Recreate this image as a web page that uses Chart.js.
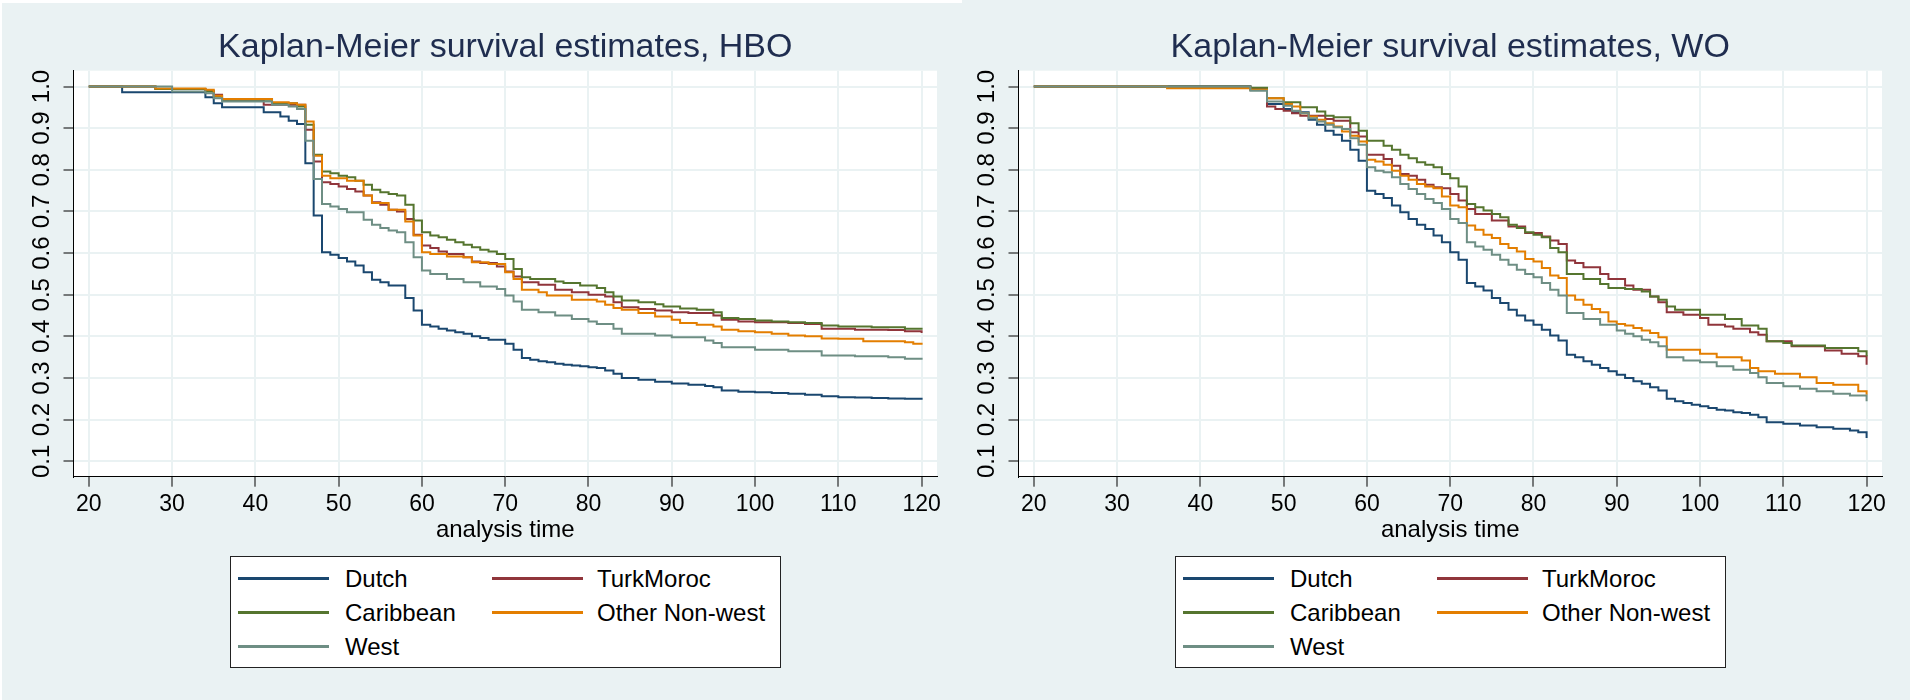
<!DOCTYPE html>
<html>
<head>
<meta charset="utf-8">
<title>Kaplan-Meier survival estimates</title>
<script src="https://cdn.jsdelivr.net/npm/chart.js@4.4.1/dist/chart.umd.min.js"></script>
<style>
    html, body { margin: 0; padding: 0; }
    body {
        width: 1910px; height: 700px; overflow: hidden; position: relative;
        background: #eaf2f3;
        font-family: "Liberation Sans", Arial, sans-serif;
    }
    .edge-top { position: absolute; left: 0; top: 0; width: 962px; height: 3px; background: #fff; }
    .edge-left { position: absolute; left: 0; top: 0; width: 2px; height: 700px; background: #fff; }
    .panel { position: absolute; top: 0; width: 1010px; height: 700px; }
    .legend {
        position: absolute; top: 556px; width: 551px; height: 112px;
        box-sizing: border-box; border: 1px solid #222; background: #fff;
    }
    .legend .swatch { position: absolute; width: 91px; height: 3px; }
    .legend .label {
        position: absolute; font-size: 24px; line-height: 1; color: #000;
        transform: translateY(-50%); white-space: nowrap;
    }
</style>
</head>
<body>
<div class="edge-top"></div>
<div class="edge-left"></div>
<div class="panel" style="left:0px"><canvas id="chart-hbo" width="1010" height="700"></canvas></div>
<div class="panel" style="left:945px"><canvas id="chart-wo" width="1010" height="700"></canvas></div>
<div class="legend" id="legend-hbo" style="left:230px"></div>
<div class="legend" id="legend-wo" style="left:1175px"></div>

<script>
// --- Axis ticks & series ---
const xTicks = [20, 30, 40, 50, 60, 70, 80, 90, 100, 110, 120];
const yTicks = [0.1, 0.2, 0.3, 0.4, 0.5, 0.6, 0.7, 0.8, 0.9, 1.0];
const seriesNames = ['Dutch', 'TurkMoroc', 'Caribbean', 'Other Non-west', 'West'];
const seriesColors = ['#1a476f', '#90353b', '#55752f', '#e37e00', '#6e8e84'];

// --- HBO (time, survival) ---
const hboDutchT = [20,24,34,35,36,41,43,44,45,46,47,48,49,50,51,52,53,54,55,56,58,59,60,61,62,63,64,65,66,67,68,70,71,72,73,74,75,76,77,78,79,80,81,82,83,84,86,88,90,92,94,95,96,98,100,102,104,106,108,110,112,114,116,118,120];
const hboDutchS = [1.0,0.986,0.974,0.96,0.95,0.938,0.928,0.918,0.91,0.816,0.69,0.602,0.596,0.588,0.58,0.57,0.554,0.536,0.53,0.522,0.492,0.462,0.428,0.424,0.418,0.414,0.41,0.406,0.40,0.396,0.392,0.382,0.368,0.348,0.344,0.34,0.338,0.334,0.332,0.33,0.328,0.326,0.324,0.318,0.31,0.30,0.296,0.291,0.287,0.284,0.281,0.278,0.27,0.267,0.266,0.264,0.262,0.26,0.256,0.254,0.253,0.252,0.251,0.25,0.248];

const hboTurkT = [20,28,34,35,36,41,46,47,48,49,50,51,52,53,54,55,56,57,58,59,60,61,62,63,65,66,67,69,70,71,72,74,76,78,80,82,83,84,86,88,90,92,95,96,98,100,104,106,108,112,116,118,120];
const hboTurkS = [1.0,0.994,0.99,0.98,0.968,0.956,0.896,0.82,0.77,0.766,0.76,0.754,0.748,0.738,0.722,0.716,0.704,0.7,0.682,0.644,0.618,0.612,0.604,0.598,0.59,0.58,0.576,0.568,0.556,0.544,0.53,0.524,0.512,0.506,0.5,0.496,0.482,0.47,0.466,0.462,0.458,0.456,0.45,0.44,0.436,0.434,0.432,0.43,0.418,0.416,0.415,0.412,0.408];

const hboCaribT = [20,28,34,35,36,42,45,46,47,48,49,50,51,52,53,54,55,56,57,58,59,60,61,62,63,64,65,66,67,68,69,70,71,72,73,76,77,79,81,82,83,84,86,88,89,91,93,95,96,98,100,102,104,106,108,110,114,118,120];
const hboCaribS = [1.0,0.994,0.988,0.976,0.968,0.96,0.952,0.908,0.836,0.796,0.792,0.786,0.782,0.774,0.764,0.752,0.746,0.742,0.738,0.716,0.678,0.65,0.642,0.638,0.632,0.626,0.62,0.614,0.608,0.604,0.598,0.586,0.562,0.542,0.538,0.532,0.528,0.522,0.516,0.506,0.496,0.486,0.482,0.477,0.472,0.467,0.464,0.458,0.444,0.442,0.438,0.436,0.434,0.432,0.426,0.424,0.422,0.418,0.416];

const hboOtherT = [20,28,34,35,36,42,44,45,46,47,48,49,51,53,54,56,58,59,60,61,63,65,66,68,70,71,72,74,75,78,81,82,83,84,86,88,90,91,93,95,96,98,100,102,104,106,108,110,113,118,119,120];
const hboOtherS = [1.0,0.995,0.992,0.978,0.97,0.962,0.96,0.956,0.916,0.834,0.786,0.78,0.774,0.738,0.72,0.704,0.676,0.642,0.602,0.598,0.592,0.59,0.578,0.574,0.554,0.538,0.512,0.506,0.498,0.488,0.484,0.476,0.468,0.464,0.456,0.448,0.44,0.432,0.428,0.424,0.416,0.412,0.41,0.406,0.402,0.4,0.395,0.394,0.388,0.386,0.382,0.38];

const hboWestT = [20,30,34,35,36,42,44,45,46,47,48,49,50,51,53,54,55,56,57,58,59,60,61,63,65,67,69,70,71,72,74,76,78,80,81,83,84,88,90,94,95,96,100,104,108,112,116,118,120];
const hboWestS = [1.0,0.988,0.984,0.972,0.964,0.956,0.952,0.946,0.87,0.778,0.718,0.712,0.706,0.698,0.68,0.668,0.66,0.654,0.65,0.626,0.59,0.558,0.55,0.538,0.53,0.52,0.514,0.498,0.484,0.464,0.458,0.45,0.442,0.436,0.43,0.418,0.406,0.402,0.398,0.39,0.384,0.374,0.368,0.364,0.354,0.352,0.35,0.346,0.344];

// --- WO (time, survival) ---
const woDutchT = [20,46,48,50,51,53,54,55,56,57,58,59,60,61,62,63,64,65,66,67,68,69,70,71,72,73,74,75,76,77,78,79,80,81,82,83,84,85,86,87,88,89,90,91,92,93,94,95,96,97,98,99,100,101,102,103,104,105,106,107,108,110,112,114,116,118,119,120];
const woDutchS = [1.0,0.992,0.958,0.946,0.938,0.92,0.908,0.894,0.884,0.87,0.848,0.822,0.75,0.742,0.732,0.714,0.698,0.682,0.668,0.658,0.642,0.626,0.602,0.584,0.528,0.52,0.51,0.492,0.48,0.464,0.45,0.438,0.428,0.416,0.402,0.39,0.356,0.35,0.34,0.332,0.324,0.316,0.308,0.3,0.292,0.286,0.278,0.27,0.25,0.244,0.24,0.236,0.232,0.228,0.224,0.222,0.218,0.216,0.212,0.206,0.194,0.19,0.186,0.182,0.178,0.174,0.17,0.156];

const woTurkT = [20,46,48,49,50,51,52,55,56,58,59,60,62,63,64,65,66,67,68,69,70,71,72,73,75,77,79,81,82,83,84,85,86,88,89,91,92,94,95,96,98,100,101,103,104,106,107,108,111,115,117,119,120];
const woTurkS = [1.0,0.996,0.952,0.946,0.942,0.936,0.93,0.922,0.918,0.89,0.88,0.836,0.826,0.81,0.79,0.786,0.776,0.764,0.758,0.756,0.742,0.726,0.706,0.694,0.678,0.664,0.648,0.64,0.63,0.622,0.582,0.576,0.566,0.55,0.538,0.522,0.512,0.496,0.482,0.458,0.452,0.444,0.428,0.424,0.418,0.41,0.404,0.388,0.376,0.366,0.358,0.352,0.332];

const woCaribT = [20,46,48,50,52,54,55,56,58,59,60,62,63,64,65,66,67,68,69,70,71,72,73,74,75,76,77,78,79,80,81,82,83,84,86,88,89,91,93,94,95,96,97,100,103,105,107,108,110,111,115,119,120];
const woCaribS = [1.0,0.997,0.972,0.962,0.95,0.94,0.93,0.926,0.912,0.894,0.87,0.858,0.848,0.836,0.828,0.818,0.812,0.806,0.79,0.78,0.76,0.718,0.71,0.702,0.694,0.686,0.668,0.66,0.65,0.644,0.638,0.612,0.602,0.55,0.538,0.526,0.516,0.514,0.508,0.496,0.488,0.472,0.464,0.452,0.442,0.426,0.418,0.388,0.384,0.378,0.372,0.364,0.352];

const woOtherT = [20,36,46,48,50,51,52,53,54,55,56,57,58,59,60,61,62,63,64,65,66,67,68,69,70,71,72,73,74,75,76,77,78,79,80,81,82,83,84,85,86,87,88,89,90,91,92,93,94,95,96,100,102,105,106,107,109,112,114,116,119,120];
const woOtherS = [1.0,0.996,0.992,0.972,0.958,0.952,0.936,0.928,0.92,0.912,0.904,0.892,0.882,0.868,0.824,0.82,0.812,0.798,0.786,0.776,0.766,0.76,0.756,0.736,0.714,0.71,0.666,0.656,0.644,0.636,0.622,0.612,0.604,0.586,0.58,0.564,0.546,0.54,0.498,0.488,0.476,0.466,0.458,0.436,0.43,0.426,0.42,0.414,0.408,0.398,0.368,0.358,0.35,0.342,0.324,0.316,0.31,0.302,0.288,0.284,0.268,0.26];

const woWestT = [20,46,48,50,51,52,53,54,55,56,57,58,59,60,61,62,63,64,65,66,67,68,69,70,71,72,73,74,75,76,77,78,79,80,81,82,83,84,86,88,90,91,92,93,94,95,96,98,100,102,104,106,107,108,110,112,114,116,118,120];
const woWestS = [1.0,0.99,0.964,0.954,0.942,0.936,0.924,0.916,0.908,0.902,0.898,0.876,0.86,0.806,0.798,0.794,0.782,0.766,0.754,0.742,0.73,0.72,0.706,0.682,0.672,0.626,0.616,0.608,0.596,0.584,0.572,0.56,0.55,0.542,0.528,0.512,0.498,0.456,0.442,0.428,0.414,0.406,0.4,0.392,0.386,0.376,0.35,0.342,0.338,0.328,0.32,0.312,0.302,0.288,0.28,0.274,0.268,0.262,0.258,0.244];

Chart.defaults.font.family = '"Liberation Sans", Arial, sans-serif';

// white plot region behind the grid
const plotBackground = {
    id: 'plotBackground',
    beforeDraw(chart) {
        const { ctx, chartArea: a } = chart;
        ctx.save();
        ctx.fillStyle = '#ffffff';
        ctx.fillRect(a.left, a.top, a.right - a.left, a.bottom - a.top);
        ctx.restore();
    }
};

function steps(t, s) {
    return t.map((v, i) => ({ x: v, y: s[i] }));
}

const gridStyle = { color: '#eaf2f3', lineWidth: 2, tickColor: '#000', tickLength: 10, tickWidth: 1 };
const borderStyle = { display: true, color: '#000', width: 1 };

function buildChart(canvasId, titleText, series) {
    return new Chart(document.getElementById(canvasId).getContext('2d'), {
        type: 'line',
        data: {
            datasets: series.map((pair, i) => ({
                label: seriesNames[i],
                data: steps(pair[0], pair[1]),
                borderColor: seriesColors[i],
                backgroundColor: seriesColors[i],
                borderWidth: 2,
                pointRadius: 0,
                stepped: 'before',
                fill: false,
                order: series.length - 1 - i
            }))
        },
        options: {
            responsive: false,
            animation: false,
            devicePixelRatio: 1,
            events: [],
            layout: { padding: { left: 0, top: 0, right: 73, bottom: 153.3 } },
            plugins: {
                legend: { display: false },
                tooltip: { enabled: false },
                title: {
                    display: true,
                    fullSize: false,   // centre over the plot region, not the canvas
                    text: titleText,
                    color: '#1f2d4f',
                    font: { size: 34, weight: 'normal' },
                    padding: { top: 27.6, bottom: 2.3 }
                }
            },
            scales: {
                x: {
                    type: 'linear',
                    min: 18.16,
                    max: 121.85,
                    afterBuildTicks: s => { s.ticks = xTicks.map(v => ({ value: v })); },
                    afterFit: s => { s.height = 70; },
                    grid: gridStyle,
                    border: borderStyle,
                    ticks: { color: '#000', font: { size: 23 }, padding: 4.5, maxRotation: 0, autoSkip: false },
                    title: {
                        display: true, text: 'analysis time', color: '#000',
                        font: { size: 24 }, padding: { top: 0, bottom: 2.3 }
                    }
                },
                y: {
                    type: 'linear',
                    min: 0.063,
                    max: 1.038,
                    afterBuildTicks: s => { s.ticks = yTicks.map(v => ({ value: v })); },
                    afterFit: s => { s.width = 73.5; },
                    grid: gridStyle,
                    border: borderStyle,
                    ticks: {
                        color: '#000',
                        font: { family: '"Liberation Sans Narrow", "Liberation Sans", Arial, sans-serif', size: 24 },
                        padding: 4,
                        minRotation: 90, maxRotation: 90, crossAlign: 'center', autoSkip: false,
                        callback: v => Number(v).toFixed(1)
                    }
                }
            }
        },
        plugins: [plotBackground]
    });
}

// Legend: two columns, filled row by row
function buildLegend(id) {
    const box = document.getElementById(id);
    seriesNames.forEach((name, i) => {
        const col = i % 2, row = Math.floor(i / 2);
        const cy = 21 + row * 34;
        const sw = document.createElement('div');
        sw.className = 'swatch';
        sw.style.left = (col ? 261 : 7) + 'px';
        sw.style.top = (cy - 1.5) + 'px';
        sw.style.background = seriesColors[i];
        box.appendChild(sw);
        const lb = document.createElement('div');
        lb.className = 'label';
        lb.style.left = (col ? 366 : 114) + 'px';
        lb.style.top = (cy + 1) + 'px';
        lb.textContent = name;
        box.appendChild(lb);
    });
}

buildChart('chart-hbo', 'Kaplan-Meier survival estimates, HBO', [
    [hboDutchT, hboDutchS], [hboTurkT, hboTurkS], [hboCaribT, hboCaribS],
    [hboOtherT, hboOtherS], [hboWestT, hboWestS]
]);
buildChart('chart-wo', 'Kaplan-Meier survival estimates, WO', [
    [woDutchT, woDutchS], [woTurkT, woTurkS], [woCaribT, woCaribS],
    [woOtherT, woOtherS], [woWestT, woWestS]
]);
buildLegend('legend-hbo');
buildLegend('legend-wo');
</script>
</body>
</html>
